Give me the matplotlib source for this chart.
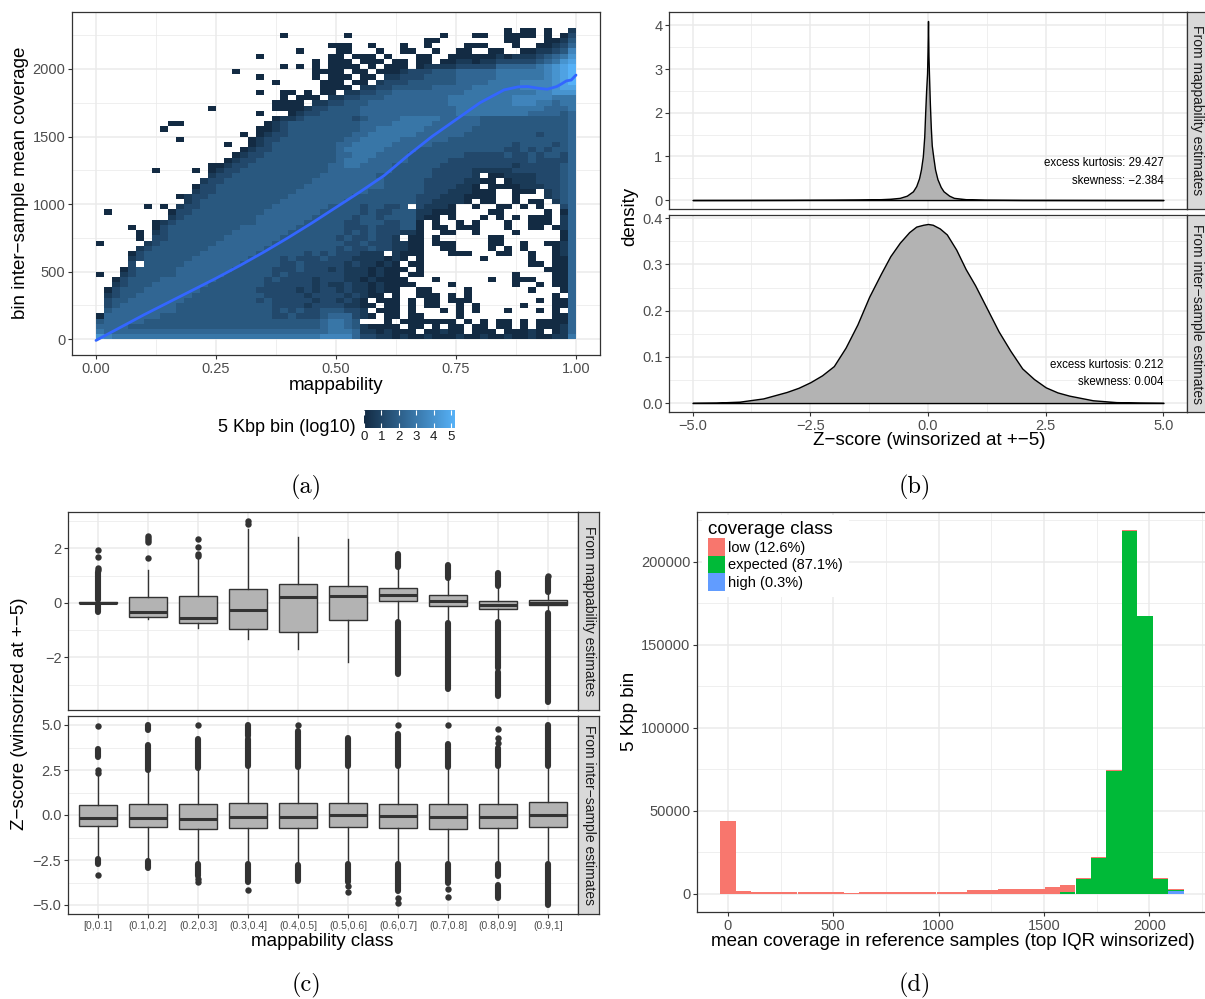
import numpy as np
import matplotlib
matplotlib.use("Agg")
import matplotlib.pyplot as plt
from matplotlib.colors import LinearSegmentedColormap, Normalize
from matplotlib.patches import Patch

plt.rcParams['font.family'] = ['Liberation Sans', 'DejaVu Sans']
plt.rcParams['axes.unicode_minus'] = True

# ===================== DATA =====================
# (a) binned counts, log10 level = digit * heat_level_step ; '.' = empty bin
# rows listed from top (highest coverage bin) to bottom, 60 mappability bins per row
heat_rows = [
    ".......... .......... .......... .......... .......... .0.00.0..1",
    ".......... .......... ...0...... .0........ ...0...00. .0000.0.02",
    ".......... .......... .......... .......... .00....... .00...0013",
    ".......... .......... .........0 00..0...0. .0....000. ..0..00124",
    ".......... .......... .....0.... 00...0..00 ..0..00..0 0..0011236",
    ".......... .......... 0........0 0.000.0... 00..000000 1011123457",
    ".......... .......... .......0.0 00.000.00. 00.0011011 2222234578",
    ".......... .......... ...0.0.0.0 000.0.000. 0111122222 4444456789",
    ".......... .......0.. .......000 0.00.00012 2233344444 5555556789",
    ".......... .......... 0......0.0 00.00.1122 2333344444 5555556789",
    ".......... .......... ..0.....00 0.00.12223 3333344445 5556666789",
    ".......... .......... ........00 00.1122333 3344444555 5556666788",
    ".......... .......... 0..00.0.00 .112233444 4444445555 5555566777",
    ".......... .......... ...0.000.1 1223334444 4444555555 5566666555",
    ".......... .......... ..0000.112 2333444444 4444555555 5566655455",
    ".......... ....0..... ..00001223 3334444444 4444455555 5555554445",
    ".......... .......... 0...012233 3334444444 4444455555 5555444434",
    ".......... .......... ..01123333 3323444455 5554444433 3333333334",
    ".........0 0......... .012333333 3334444555 5544444433 3333333334",
    "........0. .......... 0012333333 3334455555 5444444333 3333333334",
    ".......... ........0. 0122333333 3344555555 4444443333 3333323334",
    ".......... 0........0 1223333333 3445555544 4444333333 3333333334",
    ".......... ......0..0 1233333333 4455555444 4433333333 3323333234",
    ".......... ........01 2233333333 4555554444 3333333333 3223232334",
    ".......... .......012 2333333333 4455544443 3333332222 2322323324",
    ".......... ......0122 3333333333 4555444443 3333222222 2222322224",
    ".......... ....001223 3333333334 4554444333 3332222222 2212222234",
    ".......0.. ..0.012233 3333333334 4444444333 3322222111 1122222234",
    ".......... ....122333 3333333344 4444433333 33222221.0 0111122234",
    ".......... ...1223333 3333333444 4444443333 3222221100 .011122234",
    ".......... ..02233333 3333334444 4444443333 32222110.0 0001112234",
    ".......... ..12233333 3333344444 4444333333 3222111000 ..000.1234",
    ".......... 0122333333 3333444444 4433333333 2221110000 ..0...1234",
    ".......... .123333333 3334444444 4333333333 2211110.00 ..0.00.134",
    "......0.0. 1223333333 3344444443 333233223. 21110..0.. 00.0.0..24",
    ".0.......0 2233333333 3444444433 3332322333 11000....0 0.....0.04",
    ".........1 2333333333 4444444333 3323323333 100.0...0. 0.0.000.14",
    ".......012 3333333333 4444443333 3223332233 0.0..0.0.. .0..000.14",
    "....0..023 3333333344 4444433333 3222322233 0.00.000.. .0..00.014",
    ".....0.123 3333333444 4444333333 3232322211 0..00..0.. ..0.....04",
    ".....0.223 3333334444 4443333333 23223221.0 0.0......0 0.......04",
    "0.....1233 3333344444 4433333333 3223222110 0.000....0 0..0..0014",
    ".....12333 3333444444 4333333333 2322322110 0..00....0 .0.0...014",
    "....023333 3334444444 3333332323 222111.100 0...000... 00..0..014",
    "....123333 3344444443 3332322232 221111010. 0.......0. ....0..004",
    "....2.3333 3444444433 3332232222 21211010.0 0......... ....00.004",
    "...0233333 4444444333 3322232221 211101000. 0......... ......0004",
    "0..1233333 4444443333 3323222222 21110100.0 0......... ..0....004",
    "..02333344 4444433333 3232222122 211010000. ..0......0 ..000..004",
    "..12333444 4444333333 3222222121 1211010000 ....0..... ..0..0.004",
    ".023334444 4443333333 2222212122 12110100.. 00....0... ....0...04",
    ".123344444 4433333333 3222221222 212100.0.. 000.0.0... .......0.4",
    ".233444444 4333333333 2322222122 1210.000.0 .00.000... .....0.004",
    ".234444444 3333333333 3322221222 21100.00.0 .00..0.0.. ...0...004",
    ".344444444 3333333333 3323232233 3221.000.0 ...0.0.0.. .0...0.0.4",
    "0444444433 3333333333 3322322234 44210.00.0 0....0.... .......004",
    "3444443333 3333333333 3333333345 543...0.00 00000.0.0. 00.0.00004",
    "4444333333 3333333333 3333333345 54310000.0 0.0.00.00. 00.0.00014",
    "5444444444 4444444444 4444444445 5541101000 .00100.000 .00010.014",
    "7655555555 5555555555 5555555566 6642211010 0100010010 0100100115",
]
heat_level_step = 0.58
heat_x_range = (0.0, 1.0)
heat_y_range = (-3.0, 2307.0)
heat_vmax = 5.22

smooth_x = [0.0, 0.05, 0.1, 0.15, 0.2, 0.25, 0.3, 0.35, 0.4, 0.45, 0.5, 0.55, 0.6,
            0.65, 0.7, 0.75, 0.8, 0.85, 0.88, 0.9, 0.92, 0.94, 0.96, 0.97, 0.98, 0.99, 1.0]
smooth_y = [-10, 85, 180, 270, 360, 450, 545, 645, 750, 860, 975, 1090, 1210,
            1360, 1500, 1625, 1750, 1845, 1868, 1870, 1858, 1850, 1870, 1890, 1912, 1918, 1955]

# (b) densities of winsorized Z-scores
dens_map_x = [-5.0, -4.0, -3.0, -2.0, -1.5, -1.2, -1.0, -0.8, -0.6, -0.45,
              -0.32, -0.25, -0.19, -0.15, -0.11, -0.08, -0.06, -0.04, -0.02, -0.01,
              0.0, 0.01, 0.02, 0.04, 0.06, 0.08, 0.11, 0.15, 0.2, 0.27,
              0.33, 0.45, 0.55, 0.8, 1.2, 2.0, 3.0, 4.0, 5.0]
dens_map_y = [0.001, 0.002, 0.004, 0.008, 0.012, 0.016, 0.02, 0.03, 0.05, 0.1,
              0.2, 0.32, 0.5, 0.7, 1.0, 1.45, 2.0, 2.5, 2.9, 3.4,
              4.1, 3.3, 2.9, 2.2, 1.65, 1.25, 1.0, 0.7, 0.48, 0.3,
              0.2, 0.1, 0.05, 0.02, 0.008, 0.003, 0.002, 0.001, 0.001]
dens_int_x = [-5.0, -4.5, -4.0, -3.5, -3.0, -2.75, -2.5, -2.25, -2.0, -1.75, -1.5, -1.25,
              -1.0, -0.8, -0.6, -0.4, -0.25, -0.1, 0.0, 0.1, 0.25, 0.4, 0.6, 0.8, 1.0,
              1.25, 1.5, 1.75, 2.0, 2.25, 2.5, 2.75, 3.0, 3.5, 4.0, 4.5, 5.0]
dens_int_y = [0.0005, 0.001, 0.003, 0.01, 0.024, 0.033, 0.045, 0.06, 0.08, 0.12, 0.17, 0.23,
              0.28, 0.318, 0.347, 0.37, 0.382, 0.386, 0.3877, 0.386, 0.378, 0.365, 0.332, 0.29, 0.255,
              0.205, 0.155, 0.113, 0.075, 0.052, 0.034, 0.023, 0.016, 0.006, 0.002, 0.001, 0.0005]
stats_map = ["excess kurtosis: 29.427", "skewness: \u22122.384"]
stats_int = ["excess kurtosis: 0.212", "skewness: 0.004"]
facet_labels = ["From mappability estimates", "From inter\u2212sample estimates"]

# (c) boxplots per mappability class
map_classes = ["[0,0.1]", "(0.1,0.2]", "(0.2,0.3]", "(0.3,0.4]", "(0.4,0.5]",
               "(0.5,0.6]", "(0.6,0.7]", "(0.7,0.8]", "(0.8,0.9]", "(0.9,1]"]
box_map_q1 = [-0.01, -0.51, -0.73, -0.97, -1.07, -0.64, 0.05, -0.13, -0.24, -0.07]
box_map_med = [0.01, -0.34, -0.55, -0.28, 0.2, 0.24, 0.3, 0.06, -0.08, 0.0]
box_map_q3 = [0.03, 0.21, 0.24, 0.51, 0.69, 0.63, 0.55, 0.27, 0.08, 0.1]
box_map_lo = [-0.06, -0.58, -0.94, -1.31, -1.71, -2.16, -0.65, -0.7, -0.7, -0.33]
box_map_hi = [0.08, 1.2, 1.6, 2.69, 2.41, 2.33, 1.28, 0.85, 0.55, 0.36]
out_map_pts = [[1.2, 1.27, 1.68, 1.93], [1.66, 2.22, 2.3, 2.38, 2.45], [1.72, 1.8, 2.06, 2.35],
               [2.88, 3.0], [], [], [], [], [], [1.0]]
out_map_runs = [[(-0.35, -0.08), (0.1, 1.12)], [], [], [], [], [],
                [(1.32, 1.78), (-2.62, -0.72)], [(0.9, 1.38), (-3.15, -0.74)],
                [(0.6, 1.08), (-2.4, -0.72), (-3.42, -2.55)], [(0.4, 0.9), (-3.62, -0.37)]]

box_int_q1 = [-0.61, -0.67, -0.75, -0.7, -0.72, -0.64, -0.7, -0.75, -0.73, -0.69]
box_int_med = [-0.15, -0.18, -0.2, -0.09, -0.1, 0.0, -0.05, -0.09, -0.09, 0.01]
box_int_q3 = [0.56, 0.6, 0.6, 0.66, 0.66, 0.69, 0.63, 0.6, 0.6, 0.7]
box_int_lo = [-2.3, -2.5, -2.6, -2.65, -2.65, -2.6, -2.6, -2.6, -2.6, -2.6]
box_int_hi = [2.28, 2.4, 2.5, 2.65, 2.6, 2.7, 2.6, 2.55, 2.6, 2.65]
out_int_pts = [[2.35, 2.5, 4.95, -3.35], [], [5.0, -3.55, -3.7], [-4.15], [5.0],
               [-3.95, -4.25], [5.0, -4.6, -4.9], [5.0, -4.1, -4.55], [4.0, 4.3, 4.8], []]
out_int_runs = [[(3.2, 3.65), (-2.7, -2.45)], [(2.5, 3.9), (4.75, 5.0), (-2.95, -2.55)],
                [(2.6, 4.2), (-3.4, -2.7)], [(2.7, 4.2), (4.4, 5.0), (-3.7, -2.7)],
                [(2.65, 4.65), (-3.65, -2.75)], [(2.75, 4.3), (-3.7, -2.7)],
                [(2.7, 4.5), (-4.2, -2.7)], [(2.65, 3.95), (-3.8, -2.7)],
                [(2.7, 3.7), (-3.4, -2.7), (-4.6, -3.9)], [(2.7, 5.0), (-5.0, -2.7)]]

# (d) histogram of mean coverage, stacked by coverage class
cov_bin_width = 73.3
cov_bin_centers = [0, 73, 147, 220, 293, 367, 440, 513, 587, 660, 733, 807, 880, 953, 1027,
                   1100, 1173, 1247, 1320, 1393, 1467, 1540, 1613, 1687, 1760, 1833, 1907, 1980, 2053, 2127]
cov_low = [43800, 1800, 1200, 1200, 1200, 1200, 1200, 1200, 600, 1200, 1200, 1200, 1200, 1200, 1200,
           1200, 2000, 2000, 2600, 2600, 3200, 4400, 4400, 600, 600, 600, 500, 400, 800, 800]
cov_expected = [0, 0, 0, 0, 0, 0, 0, 0, 0, 0, 0, 0, 0, 0, 0,
                0, 0, 0, 0, 0, 0, 0, 1200, 8800, 21800, 73800, 218400, 167000, 9000, 600]
cov_high = [0, 0, 0, 0, 0, 0, 0, 0, 0, 0, 0, 0, 0, 0, 0,
            0, 0, 0, 0, 0, 0, 0, 0, 0, 0, 0, 0, 0, 0, 1400]
cov_classes = ["low (12.6%)", "expected (87.1%)", "high (0.3%)"]
cov_colors = ["#F8766D", "#00BA38", "#619CFF"]

# ===================== FIGURE =====================
W, H = 1205, 999
fig = plt.figure(figsize=(W / 100, H / 100), dpi=100)

GRID = '#EBEBEB'
BORDER = '#333333'
TICKC = '#4D4D4D'
TFS = 10.5      # tick label size
AFS = 13.5      # axis title size


def fr(x0, y0, x1, y1):
    return [x0 / W, 1 - y1 / H, (x1 - x0) / W, (y1 - y0) / H]


def ft(x, y, s, **kw):
    return fig.text(x / W, 1 - y / H, s, **kw)


def style(ax, xt, xm, yt, ym, xl=None, yl=None, show_x=True, xfs=TFS):
    ax.set_xticks(xt)
    ax.set_xticks(xm, minor=True)
    ax.set_yticks(yt)
    ax.set_yticks(ym, minor=True)
    if show_x and xl is not None:
        ax.set_xticklabels(xl)
    if yl is not None:
        ax.set_yticklabels(yl)
    ax.grid(True, which='major', color=GRID, linewidth=1.1)
    ax.grid(True, which='minor', color=GRID, linewidth=0.55)
    ax.set_axisbelow(True)
    ax.tick_params(which='minor', length=0)
    ax.tick_params(which='major', length=2.7, width=0.8, color=BORDER,
                   labelcolor=TICKC, pad=2.0)
    ax.tick_params(axis='y', labelsize=TFS)
    ax.tick_params(axis='x', labelsize=xfs, labelbottom=show_x,
                   length=2.7 if show_x else 0)
    for s in ax.spines.values():
        s.set_color(BORDER)
        s.set_linewidth(0.9)


def strip(rect, text):
    s = fig.add_axes(rect)
    s.set_facecolor('#D9D9D9')
    s.set_xticks([])
    s.set_yticks([])
    for sp in s.spines.values():
        sp.set_color(BORDER)
        sp.set_linewidth(0.9)
    s.text(0.5, 0.5, text, rotation=-90, ha='center', va='center', fontsize=10,
           color='#1A1A1A', transform=s.transAxes)


# ---------------- (a) ----------------
axA = fig.add_axes(fr(72, 12, 600, 355))
nrow = len(heat_rows)
grid = np.full((nrow, 60), np.nan)
for r, row in enumerate(heat_rows):
    s = (row.replace(' ', '') + '.' * 60)[:60]
    b = nrow - 1 - r
    for c, ch in enumerate(s):
        if ch.isdigit():
            grid[b, c] = int(ch) * heat_level_step
x_edges = np.linspace(heat_x_range[0], heat_x_range[1], 61)
y_edges = np.linspace(heat_y_range[0], heat_y_range[1], nrow + 1)
cmap = LinearSegmentedColormap.from_list('gg', ['#132B43', '#56B1F7'])
mesh = axA.pcolormesh(x_edges, y_edges, np.ma.masked_invalid(grid), cmap=cmap,
                      norm=Normalize(0, heat_vmax), shading='flat',
                      edgecolors='none', antialiased=False)
axA.plot(smooth_x, smooth_y, color='#3366FF', lw=2.0, solid_capstyle='round')
axA.set_xlim(-0.05, 1.05)
axA.set_ylim(-118, 2422)
style(axA, [0, 0.25, 0.5, 0.75, 1.0], [0.125, 0.375, 0.625, 0.875],
      [0, 500, 1000, 1500, 2000], [250, 750, 1250, 1750, 2250],
      ['0.00', '0.25', '0.50', '0.75', '1.00'], ['0', '500', '1000', '1500', '2000'])
ft(21, 183, 'bin inter\u2212sample mean coverage', rotation=90, ha='center', va='center', fontsize=AFS)
ft(336, 386, 'mappability', ha='center', va='center', fontsize=AFS)

cax = fig.add_axes(fr(364, 410, 455, 428))
cb = fig.colorbar(mesh, cax=cax, orientation='horizontal')
cb.set_ticks([0, 1, 2, 3, 4, 5])
cb.minorticks_off()
cb.outline.set_visible(False)
cax.tick_params(axis='x', direction='in', length=3.5, width=0.8, color='white',
                top=True, bottom=True, labelsize=9.5, labelcolor='#1A1A1A', pad=2.5)
ft(356, 428, '5 Kbp bin (log10)', ha='right', va='center', fontsize=13)

# ---------------- (b) ----------------
axB1 = fig.add_axes(fr(669, 12, 1187, 209))
axB2 = fig.add_axes(fr(669, 215, 1187, 412))
for ax, xs, ys, st, ylim, yt, ym, yl, ypos in [
        (axB1, dens_map_x, dens_map_y, stats_map, (-0.205, 4.305), [0, 1, 2, 3, 4],
         [0.5, 1.5, 2.5, 3.5], ['0', '1', '2', '3', '4'], (0.85, 0.44)),
        (axB2, dens_int_x, dens_int_y, stats_int, (-0.0194, 0.4071), [0, 0.1, 0.2, 0.3, 0.4],
         [0.05, 0.15, 0.25, 0.35], ['0.0', '0.1', '0.2', '0.3', '0.4'], (0.083, 0.045))]:
    ax.fill_between(xs, ys, 0, facecolor='#B3B3B3', edgecolor='black', linewidth=1.0)
    ax.set_xlim(-5.5, 5.5)
    ax.set_ylim(*ylim)
    ax.text(5.0, ypos[0], st[0], ha='right', va='center', fontsize=8.3)
    ax.text(5.0, ypos[1], st[1], ha='right', va='center', fontsize=8.3)
    style(ax, [-5, -2.5, 0, 2.5, 5], [-3.75, -1.25, 1.25, 3.75], yt, ym,
          ['\u22125.0', '\u22122.5', '0.0', '2.5', '5.0'], yl, show_x=(ax is axB2))
strip(fr(1187, 12, 1208, 209), facet_labels[0])
strip(fr(1187, 215, 1208, 412), facet_labels[1])
ft(630, 216, 'density', rotation=90, ha='center', va='center', fontsize=AFS)
ft(929, 441, 'Z\u2212score (winsorized at +\u22125)', ha='center', va='center', fontsize=AFS)

# ---------------- (c) ----------------
axC1 = fig.add_axes(fr(68, 512, 578, 710))
axC2 = fig.add_axes(fr(68, 716, 578, 914))
pos = list(range(1, len(map_classes) + 1))
for ax, q1, med, q3, lo, hi, pts, runs, ylim, yt, ym, yl in [
        (axC1, box_map_q1, box_map_med, box_map_q3, box_map_lo, box_map_hi, out_map_pts,
         out_map_runs, (-3.93, 3.33), [-2, 0, 2], [-3, -1, 1, 3], ['\u22122', '0', '2']),
        (axC2, box_int_q1, box_int_med, box_int_q3, box_int_lo, box_int_hi, out_int_pts,
         out_int_runs, (-5.5, 5.5), [-5, -2.5, 0, 2.5, 5], [-3.75, -1.25, 1.25, 3.75],
         ['\u22125.0', '\u22122.5', '0.0', '2.5', '5.0'])]:
    stats = [dict(med=med[i], q1=q1[i], q3=q3[i], whislo=lo[i], whishi=hi[i],
                  fliers=np.array(pts[i], dtype=float)) for i in range(len(pos))]
    for i, p in enumerate(pos):
        for (a, b) in runs[i]:
            ax.plot([p, p], [a, b], color=BORDER, lw=4.4, solid_capstyle='round', zorder=2)
    ax.bxp(stats, positions=pos, widths=0.75, patch_artist=True, showcaps=False,
           manage_ticks=False,
           boxprops=dict(facecolor='#B3B3B3', edgecolor=BORDER, linewidth=1.0),
           medianprops=dict(color=BORDER, linewidth=2.2),
           whiskerprops=dict(color=BORDER, linewidth=1.0),
           flierprops=dict(marker='o', markerfacecolor=BORDER, markeredgecolor='none',
                           markersize=4.6))
    ax.set_xlim(0.4, 10.6)
    ax.set_ylim(*ylim)
    style(ax, pos, [], yt, ym, map_classes, yl, show_x=(ax is axC2), xfs=7.5)
strip(fr(578, 512, 599, 710), facet_labels[0])
strip(fr(578, 716, 599, 914), facet_labels[1])
ft(20, 714, 'Z\u2212score (winsorized at +\u22125)', rotation=90, ha='center', va='center', fontsize=AFS)
ft(322, 941, 'mappability class', ha='center', va='center', fontsize=AFS)

# ---------------- (d) ----------------
axD = fig.add_axes(fr(697, 512, 1207, 912))
hi_arr = np.array(cov_high, dtype=float)
ex_arr = np.array(cov_expected, dtype=float)
lo_arr = np.array(cov_low, dtype=float)
axD.bar(cov_bin_centers, hi_arr, width=cov_bin_width, color=cov_colors[2], linewidth=0)
axD.bar(cov_bin_centers, ex_arr, bottom=hi_arr, width=cov_bin_width, color=cov_colors[1], linewidth=0)
axD.bar(cov_bin_centers, lo_arr, bottom=hi_arr + ex_arr, width=cov_bin_width, color=cov_colors[0], linewidth=0)
axD.set_xlim(-146.7, 2274)
axD.set_ylim(-10945, 229845)
style(axD, [0, 500, 1000, 1500, 2000], [250, 750, 1250, 1750, 2250],
      [0, 50000, 100000, 150000, 200000], [25000, 75000, 125000, 175000, 225000],
      ['0', '500', '1000', '1500', '2000'], ['0', '50000', '100000', '150000', '200000'])
handles = [Patch(facecolor=c, edgecolor='none') for c in cov_colors]
leg = axD.legend(handles, cov_classes, title='coverage class', loc='upper left',
                 bbox_to_anchor=(702 / W, 1 - 515 / H), bbox_transform=fig.transFigure,
                 frameon=True, fontsize=10.5, title_fontsize=13.5, handlelength=1.2,
                 handleheight=1.5, handletextpad=0.2, labelspacing=0.0, borderpad=0.4,
                 borderaxespad=0, alignment='left')
leg.get_frame().set_facecolor('white')
leg.get_frame().set_edgecolor('none')
leg.get_frame().set_alpha(1.0)
ft(629, 711, '5 Kbp bin', rotation=90, ha='center', va='center', fontsize=AFS)
ft(953, 941, 'mean coverage in reference samples (top IQR winsorized)', ha='center', va='center', fontsize=AFS)

# ---------------- captions ----------------
for (x, y, s) in [(306, 487, '(a)'), (915, 487, '(b)'), (306, 985, '(c)'), (915, 985, '(d)')]:
    ft(x, y, s, ha='center', va='center', fontsize=17.5, fontfamily='cmr10')

fig.savefig('out.png', dpi=100)
